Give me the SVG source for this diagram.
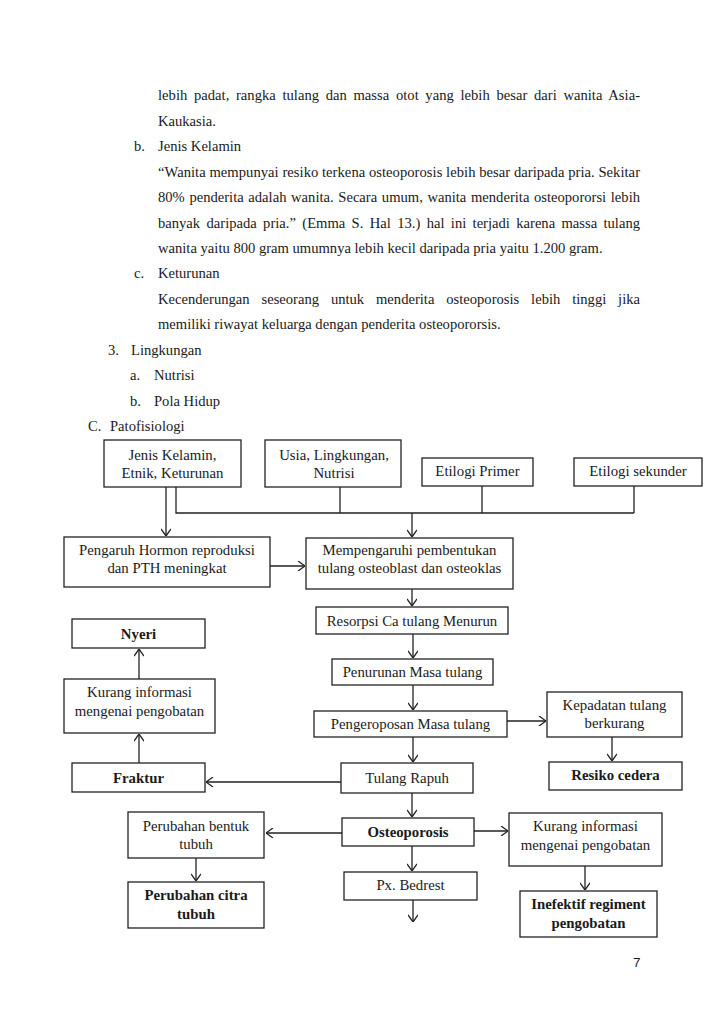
<svg xmlns="http://www.w3.org/2000/svg" width="728" height="1030" viewBox="0 0 728 1030">
<style>
text{font-family:"Liberation Serif","Times New Roman",serif;font-size:14.6px;fill:#1a1a1a}
.n text{font-size:14.8px}
.b{font-weight:bold}
.c{text-anchor:middle}
.box{fill:#fff;stroke:#222;stroke-width:1.3}
.ln{fill:none;stroke:#222;stroke-width:1.3}
.pg{font-family:"Liberation Sans",Arial,sans-serif;font-size:13.5px}
</style>
<defs>
<marker id="ah" viewBox="0 0 10 10" refX="10" refY="5" markerWidth="10" markerHeight="10" markerUnits="userSpaceOnUse" orient="auto">
<path d="M3,0 L10,5 L3,10" fill="none" stroke="#222" stroke-width="1.3"/>
</marker>
</defs>
<rect width="728" height="1030" fill="#fff"/>
<g id="body-text">
<text x="158" y="100" word-spacing="3" textLength="482" lengthAdjust="spacing">lebih padat, rangka tulang dan massa otot yang lebih besar dari wanita Asia-</text>
<text x="158" y="125.5">Kaukasia.</text>
<text x="134" y="151">b.</text><text x="158" y="151">Jenis Kelamin</text>
<text x="158" y="176.5" textLength="482" lengthAdjust="spacing">“Wanita mempunyai resiko terkena osteoporosis lebih besar daripada pria. Sekitar</text>
<text x="158" y="202" word-spacing="1" textLength="482" lengthAdjust="spacing">80% penderita adalah wanita. Secara umum, wanita menderita osteopororsi lebih</text>
<text x="158" y="227.5" word-spacing="2.7" textLength="482" lengthAdjust="spacing">banyak daripada pria.” (Emma S. Hal 13.) hal ini terjadi karena massa tulang</text>
<text x="158" y="253">wanita yaitu 800 gram umumnya lebih kecil daripada pria yaitu 1.200 gram.</text>
<text x="134" y="278">c.</text><text x="158" y="278">Keturunan</text>
<text x="158" y="304" word-spacing="8.2" textLength="482" lengthAdjust="spacing">Kecenderungan seseorang untuk menderita osteoporosis lebih tinggi jika</text>
<text x="158" y="329">memiliki riwayat keluarga dengan penderita osteopororsis.</text>
<text x="108" y="355">3.</text><text x="131" y="355">Lingkungan</text>
<text x="130" y="380">a.</text><text x="154" y="380">Nutrisi</text>
<text x="130" y="405.5">b.</text><text x="154" y="405.5">Pola Hidup</text>
<text x="88" y="431">C.</text><text x="110" y="431">Patofisiologi</text>
</g>
<g id="connectors">
<line class="ln" x1="166" y1="487" x2="166" y2="536" marker-end="url(#ah)"/>
<polyline class="ln" points="176,487 176,513 634,513"/>
<line class="ln" x1="340" y1="487" x2="340" y2="513"/>
<line class="ln" x1="482" y1="486" x2="482" y2="513"/>
<line class="ln" x1="634" y1="486" x2="634" y2="513"/>
<line class="ln" x1="412" y1="513" x2="412" y2="537" marker-end="url(#ah)"/>
<line class="ln" x1="270" y1="566" x2="305" y2="566" marker-end="url(#ah)"/>
<line class="ln" x1="412" y1="589" x2="412" y2="606" marker-end="url(#ah)"/>
<line class="ln" x1="413" y1="634" x2="413" y2="658" marker-end="url(#ah)"/>
<line class="ln" x1="413" y1="685" x2="413" y2="710" marker-end="url(#ah)"/>
<line class="ln" x1="507" y1="721" x2="546" y2="721" marker-end="url(#ah)"/>
<line class="ln" x1="612" y1="737" x2="612" y2="761" marker-end="url(#ah)"/>
<line class="ln" x1="413" y1="737" x2="413" y2="762" marker-end="url(#ah)"/>
<line class="ln" x1="341" y1="782" x2="206" y2="782" marker-end="url(#ah)"/>
<line class="ln" x1="139" y1="763" x2="139" y2="734" marker-end="url(#ah)"/>
<line class="ln" x1="139" y1="679" x2="139" y2="649" marker-end="url(#ah)"/>
<line class="ln" x1="412" y1="793" x2="412" y2="817" marker-end="url(#ah)"/>
<line class="ln" x1="342" y1="833" x2="266" y2="833" marker-end="url(#ah)"/>
<line class="ln" x1="474" y1="831" x2="508" y2="831" marker-end="url(#ah)"/>
<line class="ln" x1="196" y1="858" x2="196" y2="881" marker-end="url(#ah)"/>
<line class="ln" x1="585" y1="866" x2="585" y2="890" marker-end="url(#ah)"/>
<line class="ln" x1="412" y1="846" x2="412" y2="871" marker-end="url(#ah)"/>
<line class="ln" x1="413" y1="900" x2="413" y2="922" marker-end="url(#ah)"/>
</g>
<g class="n">
<g id="n-jenis"><rect class="box" x="104" y="440" width="137" height="47"/><text class="c" x="172.5" y="460">Jenis Kelamin,</text><text class="c" x="172.5" y="478">Etnik, Keturunan</text></g>
<g id="n-usia"><rect class="box" x="265" y="440" width="136" height="47"/><text class="c" x="334" y="460">Usia, Lingkungan,</text><text class="c" x="334" y="478">Nutrisi</text></g>
<g id="n-primer"><rect class="box" x="422" y="458" width="111" height="28"/><text class="c" x="477.5" y="475.5">Etilogi Primer</text></g>
<g id="n-sekunder"><rect class="box" x="574" y="458" width="128" height="28"/><text class="c" x="638" y="475.5">Etilogi sekunder</text></g>
<g id="n-pengaruh"><rect class="box" x="64" y="537" width="206" height="50"/><text class="c" x="167" y="555">Pengaruh Hormon reproduksi</text><text class="c" x="167" y="573">dan PTH meningkat</text></g>
<g id="n-mempengaruhi"><rect class="box" x="306" y="538" width="207" height="51"/><text class="c" x="409.5" y="555">Mempengaruhi pembentukan</text><text class="c" x="409.5" y="573">tulang osteoblast dan osteoklas</text></g>
<g id="n-resorpsi"><rect class="box" x="316" y="607" width="192" height="27"/><text class="c" x="412" y="626">Resorpsi Ca tulang Menurun</text></g>
<g id="n-penurunan"><rect class="box" x="332" y="659" width="161" height="26"/><text class="c" x="412.5" y="677">Penurunan Masa tulang</text></g>
<g id="n-pengeroposan"><rect class="box" x="314" y="711" width="193" height="26"/><text class="c" x="410.5" y="729">Pengeroposan Masa tulang</text></g>
<g id="n-kepadatan"><rect class="box" x="547" y="692" width="135" height="45"/><text class="c" x="614.5" y="710">Kepadatan tulang</text><text class="c" x="614.5" y="728">berkurang</text></g>
<g id="n-resiko"><rect class="box" x="549" y="762" width="133" height="28"/><text class="c b" x="615.5" y="780">Resiko cedera</text></g>
<g id="n-tulang"><rect class="box" x="341" y="763" width="132" height="30"/><text class="c" x="407" y="783">Tulang Rapuh</text></g>
<g id="n-fraktur"><rect class="box" x="72" y="763" width="133" height="29"/><text class="c b" x="138.5" y="783">Fraktur</text></g>
<g id="n-kurang1"><rect class="box" x="64" y="679" width="151" height="54"/><text class="c" x="139.5" y="697">Kurang informasi</text><text class="c" x="139.5" y="716">mengenai pengobatan</text></g>
<g id="n-nyeri"><rect class="box" x="72" y="619" width="133" height="29"/><text class="c b" x="138.5" y="638.5">Nyeri</text></g>
<g id="n-osteoporosis"><rect class="box" x="342" y="818" width="132" height="28"/><text class="c b" x="408" y="837">Osteoporosis</text></g>
<g id="n-bentuk"><rect class="box" x="128" y="812" width="136" height="46"/><text class="c" x="196" y="831">Perubahan bentuk</text><text class="c" x="196" y="849">tubuh</text></g>
<g id="n-citra"><rect class="box" x="128" y="882" width="136" height="46"/><text class="c b" x="196" y="900">Perubahan citra</text><text class="c b" x="196" y="919">tubuh</text></g>
<g id="n-kurang2"><rect class="box" x="509" y="813" width="153" height="53"/><text class="c" x="585.5" y="831">Kurang informasi</text><text class="c" x="585.5" y="849.5">mengenai pengobatan</text></g>
<g id="n-inefektif"><rect class="box" x="520" y="891" width="137" height="46"/><text class="c b" x="588.5" y="909">Inefektif regiment</text><text class="c b" x="588.5" y="928">pengobatan</text></g>
<g id="n-bedrest"><rect class="box" x="344" y="872" width="133" height="28"/><text class="c" x="410.5" y="889.5">Px. Bedrest</text></g>
</g>
<text class="pg" x="633" y="967">7</text>
</svg>
